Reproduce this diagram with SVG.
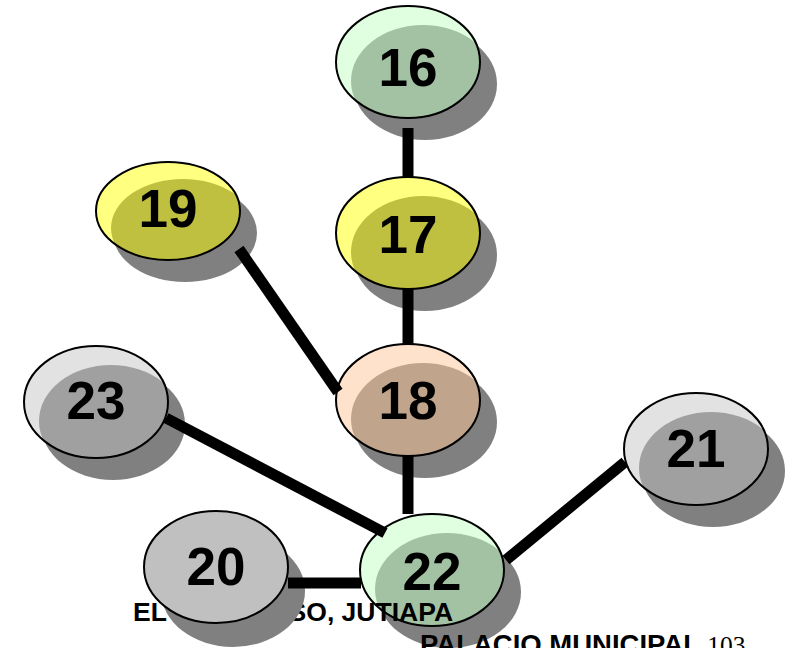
<svg xmlns="http://www.w3.org/2000/svg" width="790" height="648" viewBox="0 0 790 648">
<style>
.sh{fill:#808080}
.ol{fill:none;stroke:#000;stroke-width:2}
.lb{font-family:"Liberation Sans",Arial,sans-serif;font-weight:bold;font-size:53px;text-anchor:middle;fill:#000}
.cn{stroke:#000;stroke-width:11;fill:none;stroke-linecap:butt}
.green .lt{fill:#e0ffe0}.green .dk{fill:#a3c2a3}
.yellow .lt{fill:#ffff80}.yellow .dk{fill:#c0c040}
.peach .lt{fill:#ffe2cc}.peach .dk{fill:#c0a48c}
.gray .lt{fill:#e2e2e2}.gray .dk{fill:#a0a0a0}
.flat .lt{fill:#c0c0c0}
.cap{font-family:"Liberation Sans",Arial,sans-serif;font-weight:bold;fill:#000}
.pg{font-family:"Liberation Serif","Times New Roman",serif;font-weight:normal;font-size:25.5px}
</style>
<defs>
<clipPath id="c"><ellipse rx="72" ry="56"/></clipPath>
<clipPath id="c19"><ellipse rx="72" ry="49"/></clipPath>
</defs>
<g id="n22" class="green" transform="translate(432,570)">
<ellipse class="sh" cx="17" cy="22" rx="72" ry="56"/>
<ellipse class="lt" rx="72" ry="56"/>
<ellipse class="dk" cx="15" cy="19" rx="72" ry="56" clip-path="url(#c)"/>
<ellipse class="ol" rx="72" ry="56"/>
<text class="lb" y="20">22</text>
</g>
<g id="captions">
<text class="cap" x="133" y="621" font-size="26.5">EL PROGRESO, JUTIAPA</text>
<text class="cap" x="420" y="654" font-size="27.5">PALACIO MUNICIPAL <tspan class="pg">103</tspan></text>
</g>
<g id="n16" class="green" transform="translate(408,62)">
<ellipse class="sh" cx="17" cy="22" rx="72" ry="56"/>
<ellipse class="lt" rx="72" ry="56"/>
<ellipse class="dk" cx="15" cy="19" rx="72" ry="56" clip-path="url(#c)"/>
<ellipse class="ol" rx="72" ry="56"/>
<text class="lb" y="24">16</text>
</g>
<g id="n17" class="yellow" transform="translate(408,233)">
<ellipse class="sh" cx="17" cy="22" rx="72" ry="56"/>
<ellipse class="lt" rx="72" ry="56"/>
<ellipse class="dk" cx="15" cy="19" rx="72" ry="56" clip-path="url(#c)"/>
<ellipse class="ol" rx="72" ry="56"/>
<text class="lb" y="20">17</text>
</g>
<g id="n19" class="yellow" transform="translate(168,211)">
<ellipse class="sh" cx="17" cy="22" rx="72" ry="49"/>
<ellipse class="lt" rx="72" ry="49"/>
<ellipse class="dk" cx="15" cy="17" rx="72" ry="49" clip-path="url(#c19)"/>
<ellipse class="ol" rx="72" ry="49"/>
<text class="lb" y="16">19</text>
</g>
<g id="n18" class="peach" transform="translate(408,400)">
<ellipse class="sh" cx="17" cy="22" rx="72" ry="56"/>
<ellipse class="lt" rx="72" ry="56"/>
<ellipse class="dk" cx="15" cy="19" rx="72" ry="56" clip-path="url(#c)"/>
<ellipse class="ol" rx="72" ry="56"/>
<text class="lb" y="19">18</text>
</g>
<g id="n23" class="gray" transform="translate(96,402)">
<ellipse class="sh" cx="17" cy="22" rx="72" ry="56"/>
<ellipse class="lt" rx="72" ry="56"/>
<ellipse class="dk" cx="15" cy="19" rx="72" ry="56" clip-path="url(#c)"/>
<ellipse class="ol" rx="72" ry="56"/>
<text class="lb" y="17">23</text>
</g>
<g id="n21" class="gray" transform="translate(696,449)">
<ellipse class="sh" cx="17" cy="22" rx="72" ry="56"/>
<ellipse class="lt" rx="72" ry="56"/>
<ellipse class="dk" cx="15" cy="19" rx="72" ry="56" clip-path="url(#c)"/>
<ellipse class="ol" rx="72" ry="56"/>
<text class="lb" y="18">21</text>
</g>
<g id="n20" class="flat" transform="translate(216,567)">
<ellipse class="sh" cx="17" cy="24" rx="72" ry="56"/>
<ellipse class="lt" rx="72" ry="56"/>
<ellipse class="ol" rx="72" ry="56"/>
<text class="lb" y="18">20</text>
</g>
<g id="connectors">
<line class="cn" x1="408" y1="128" x2="408" y2="177"/>
<line class="cn" x1="408" y1="289" x2="408" y2="344"/>
<line class="cn" x1="239" y1="249" x2="338" y2="392"/>
<line class="cn" x1="166" y1="418" x2="385" y2="533"/>
<line class="cn" x1="408" y1="456" x2="408" y2="514"/>
<line class="cn" x1="625" y1="462" x2="506" y2="560"/>
<line class="cn" x1="288" y1="583" x2="361" y2="583"/>
</g>
</svg>
